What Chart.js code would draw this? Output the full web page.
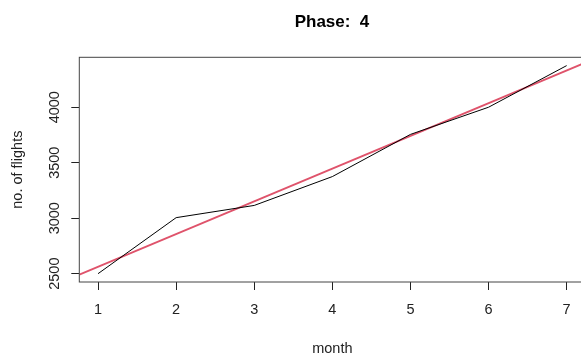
<!DOCTYPE html>
<html>
<head>
<meta charset="utf-8">
<script src="https://cdn.jsdelivr.net/npm/chart.js@4/dist/chart.umd.min.js"></script>
<style>
  html, body { margin: 0; padding: 0; background: #fff; overflow: hidden; }
  #wrap { width: 664px; height: 355px; }
</style>
</head>
<body>
<div id="wrap"><canvas id="c" width="664" height="355"></canvas></div>
<script>
// ---- data ----
const months = [1, 2, 3, 4, 5, 6, 7];
const flights = [2500, 3005, 3115, 3375, 3755, 4000, 4375];
const xTickValues = [1, 2, 3, 4, 5, 6, 7];
const yTickValues = [2500, 3000, 3500, 4000];
const titleText = 'Phase:  4';
const xLabel = 'month';
const yLabel = 'no. of flights';

// least-squares fit (like abline(lm(...)))
const n = months.length;
const mx = months.reduce((s, v) => s + v, 0) / n;
const my = flights.reduce((s, v) => s + v, 0) / n;
let sxy = 0, sxx = 0;
for (let i = 0; i < n; i++) { sxy += (months[i] - mx) * (flights[i] - my); sxx += (months[i] - mx) ** 2; }
const slope = sxy / sxx;
const intercept = my - slope * mx;

// R-style 4% axis extension
const xr = Math.max(...months) - Math.min(...months);
const yr = Math.max(...flights) - Math.min(...flights);
const xMin = Math.min(...months) - 0.04 * xr, xMax = Math.max(...months) + 0.04 * xr;
const yMin = Math.min(...flights) - 0.04 * yr, yMax = Math.max(...flights) + 0.04 * yr;

const FONT = "'Liberation Sans', Arial, sans-serif";

const boxPlugin = {
  id: 'box',
  afterDatasetsDraw(chart) {
    const {ctx, chartArea: a} = chart;
    ctx.save();
    ctx.strokeStyle = '#444';
    ctx.lineWidth = 1;
    ctx.strokeRect(a.left, a.top, a.right - a.left, a.bottom - a.top);
    ctx.restore();
  }
};

new Chart(document.getElementById('c'), {
  type: 'line',
  data: {
    datasets: [
      {
        label: 'flights',
        data: months.map((m, i) => ({x: m, y: flights[i]})),
        borderColor: '#000',
        borderWidth: 1,
        pointRadius: 0,
        tension: 0
      },
      {
        label: 'fit',
        data: [xMin, xMax].map(x => ({x, y: intercept + slope * x})),
        borderColor: '#DF536B',
        borderWidth: 2,
        pointRadius: 0,
        tension: 0
      }
    ]
  },
  options: {
    responsive: false,
    animation: false,
    devicePixelRatio: 1,
    layout: { padding: 0 },
    plugins: {
      legend: { display: false },
      tooltip: { enabled: false },
      title: {
        display: true,
        text: titleText,
        color: '#000',
        font: { family: FONT, size: 17, weight: 'bold', lineHeight: 1.2 },
        padding: { top: 12.5, bottom: 24.4 }
      }
    },
    scales: {
      x: {
        type: 'linear',
        min: xMin,
        max: xMax,
        afterBuildTicks: s => { s.ticks = xTickValues.map(v => ({value: v})); },
        afterFit: s => { s.height = 73; },
        border: { display: false },
        grid: { drawOnChartArea: false, drawTicks: true, tickLength: 8, color: '#000', tickColor: '#222' },
        ticks: {
          color: '#222',
          padding: 11,
          maxRotation: 0,
          font: { family: FONT, size: 14.5 },
          callback: v => String(v)
        },
        title: {
          display: true,
          text: xLabel,
          color: '#222',
          font: { family: FONT, size: 14.5, lineHeight: 1 },
          padding: { top: 0, bottom: -1.2 }
        }
      },
      y: {
        type: 'linear',
        position: 'left',
        min: yMin,
        max: yMax,
        afterBuildTicks: s => { s.ticks = yTickValues.map(v => ({value: v})); },
        afterFit: s => { s.width = 79.3; },
        border: { display: false },
        grid: { drawOnChartArea: false, drawTicks: true, tickLength: 8, color: '#000', tickColor: '#222' },
        ticks: {
          color: '#222',
          padding: 0.5,
          minRotation: 90,
          maxRotation: 90,
          crossAlign: 'center',
          font: { family: FONT, size: 14.5 },
          callback: v => String(v)
        },
        title: {
          display: true,
          text: yLabel,
          color: '#222',
          font: { family: FONT, size: 14.5, lineHeight: 1.2 },
          padding: { top: 9.3, bottom: 0 }
        }
      },
      yRight: {
        type: 'linear',
        position: 'right',
        display: true,
        min: yMin,
        max: yMax,
        afterFit: s => { s.width = 664 - 585.4; },
        border: { display: false },
        grid: { display: false },
        ticks: { display: false }
      }
    }
  },
  plugins: [boxPlugin]
});
</script>
</body>
</html>
